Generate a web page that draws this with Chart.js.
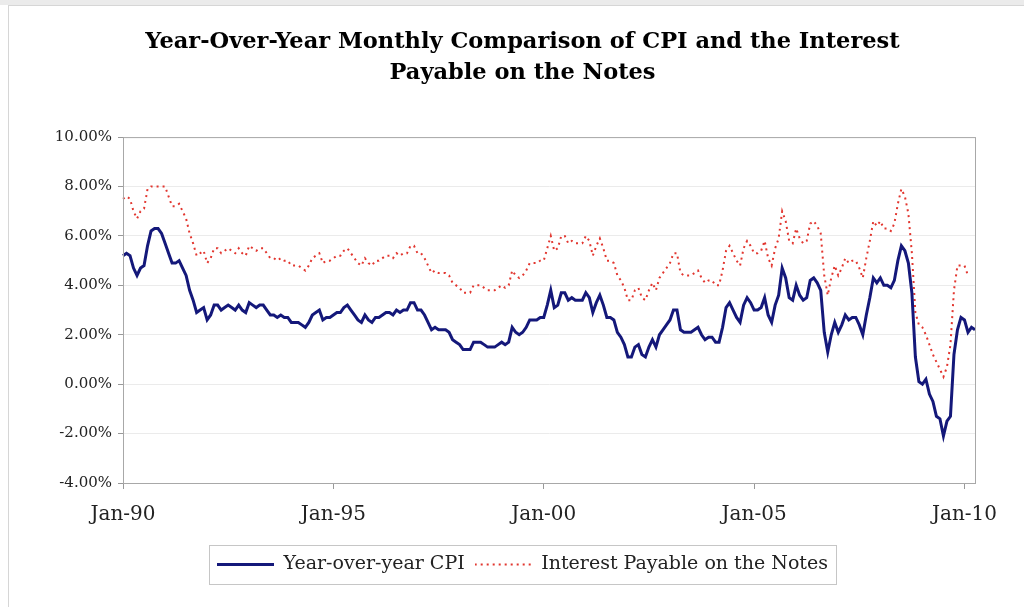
<!DOCTYPE html>
<html>
<head>
<meta charset="utf-8">
<script src="https://cdn.jsdelivr.net/npm/chart.js@4.4.1/dist/chart.umd.min.js"></script>
<style>
  html, body { margin: 0; padding: 0; background: #fff; }
  #strip { position: absolute; left: 0; top: 0; width: 1024px; height: 5px; background: #ebebeb; }
  #frame { position: absolute; left: 8px; top: 5px; width: 1016px; height: 602px; border-left: 1px solid #d6d6d6; border-top: 1px solid #d6d6d6; box-sizing: border-box; }
  #wrap { position: absolute; left: 0; top: 0; width: 1024px; height: 607px; }
</style>
</head>
<body>
<div id="strip"></div>
<div id="frame"></div>
<div id="wrap"><canvas id="chart"></canvas></div>
<script>
// monthly categories Jan-90 .. Apr-10
const monthNames = ['Jan','Feb','Mar','Apr','May','Jun','Jul','Aug','Sep','Oct','Nov','Dec']
const years = [1990,1991,1992,1993,1994,1995,1996,1997,1998,1999,2000,2001,2002,2003,2004,2005,2006,2007,2008,2009,2010]
const monthCount = 244
const tickLabels = ['Jan-90','Jan-95','Jan-00','Jan-05','Jan-10']

// year-over-year CPI, %
const cpi = [
  5.2, 5.3, 5.2, 4.7, 4.4, 4.7, 4.8, 5.6, 6.2, 6.3, 6.3, 6.1,
  5.7, 5.3, 4.9, 4.9, 5.0, 4.7, 4.4, 3.8, 3.4, 2.9, 3.0, 3.1,
  2.6, 2.8, 3.2, 3.2, 3.0, 3.1, 3.2, 3.1, 3.0, 3.2, 3.0, 2.9,
  3.3, 3.2, 3.1, 3.2, 3.2, 3.0, 2.8, 2.8, 2.7, 2.8, 2.7, 2.7,
  2.5, 2.5, 2.5, 2.4, 2.3, 2.5, 2.8, 2.9, 3.0, 2.6, 2.7, 2.7,
  2.8, 2.9, 2.9, 3.1, 3.2, 3.0, 2.8, 2.6, 2.5, 2.8, 2.6, 2.5,
  2.7, 2.7, 2.8, 2.9, 2.9, 2.8, 3.0, 2.9, 3.0, 3.0, 3.3, 3.3,
  3.0, 3.0, 2.8, 2.5, 2.2, 2.3, 2.2, 2.2, 2.2, 2.1, 1.8, 1.7,
  1.6, 1.4, 1.4, 1.4, 1.7, 1.7, 1.7, 1.6, 1.5, 1.5, 1.5, 1.6,
  1.7, 1.6, 1.7, 2.3, 2.1, 2.0, 2.1, 2.3, 2.6, 2.6, 2.6, 2.7,
  2.7, 3.2, 3.8, 3.1, 3.2, 3.7, 3.7, 3.4, 3.5, 3.4, 3.4, 3.4,
  3.7, 3.5, 2.9, 3.3, 3.6, 3.2, 2.7, 2.7, 2.6, 2.1, 1.9, 1.6,
  1.1, 1.1, 1.5, 1.6, 1.2, 1.1, 1.5, 1.8, 1.5, 2.0, 2.2, 2.4,
  2.6, 3.0, 3.0, 2.2, 2.1, 2.1, 2.1, 2.2, 2.3, 2.0, 1.8, 1.9,
  1.9, 1.7, 1.7, 2.3, 3.1, 3.3, 3.0, 2.7, 2.5, 3.2, 3.5, 3.3,
  3.0, 3.0, 3.1, 3.5, 2.8, 2.5, 3.2, 3.6, 4.7, 4.3, 3.5, 3.4,
  4.0, 3.6, 3.4, 3.5, 4.2, 4.3, 4.1, 3.8, 2.1, 1.3, 2.0, 2.5,
  2.1, 2.4, 2.8, 2.6, 2.7, 2.7, 2.4, 2.0, 2.8, 3.5, 4.3, 4.1,
  4.3, 4.0, 4.0, 3.9, 4.2, 5.0, 5.6, 5.4, 4.9, 3.7, 1.1, 0.1,
  0.0, 0.2, -0.4, -0.7, -1.3, -1.4, -2.1, -1.5, -1.3, 1.2, 2.2, 2.7,
  2.6, 2.1, 2.3, 2.2
]

// interest payable on the notes, %
const interest = [
  7.5, 7.6, 7.5, 7.0, 6.7, 7.0, 7.1, 7.9, 8.0, 8.0, 8.0, 8.0,
  8.0, 7.6, 7.2, 7.2, 7.3, 7.0, 6.7, 6.1, 5.7, 5.2, 5.3, 5.4,
  4.9, 5.1, 5.5, 5.5, 5.3, 5.4, 5.5, 5.4, 5.3, 5.5, 5.3, 5.2,
  5.6, 5.5, 5.4, 5.5, 5.5, 5.3, 5.1, 5.1, 5.0, 5.1, 5.0, 5.0,
  4.8, 4.8, 4.8, 4.7, 4.6, 4.8, 5.1, 5.2, 5.3, 4.9, 5.0, 5.0,
  5.1, 5.2, 5.2, 5.4, 5.5, 5.3, 5.1, 4.9, 4.8, 5.1, 4.9, 4.8,
  5.0, 5.0, 5.1, 5.2, 5.2, 5.1, 5.3, 5.2, 5.3, 5.3, 5.6, 5.6,
  5.3, 5.3, 5.1, 4.8, 4.5, 4.6, 4.5, 4.5, 4.5, 4.4, 4.1, 4.0,
  3.9, 3.7, 3.7, 3.7, 4.0, 4.0, 4.0, 3.9, 3.8, 3.8, 3.8, 3.9,
  4.0, 3.9, 4.0, 4.6, 4.4, 4.3, 4.4, 4.6, 4.9, 4.9, 4.9, 5.0,
  5.0, 5.5, 6.0, 5.4, 5.5, 6.0, 6.0, 5.7, 5.8, 5.7, 5.7, 5.7,
  6.0, 5.8, 5.2, 5.6, 5.9, 5.5, 5.0, 5.0, 4.9, 4.4, 4.2, 3.9,
  3.4, 3.4, 3.8, 3.9, 3.5, 3.4, 3.8, 4.1, 3.8, 4.3, 4.5, 4.7,
  4.9, 5.3, 5.3, 4.5, 4.4, 4.4, 4.4, 4.5, 4.6, 4.3, 4.1, 4.2,
  4.2, 4.0, 4.0, 4.6, 5.4, 5.6, 5.3, 5.0, 4.8, 5.5, 5.8, 5.6,
  5.3, 5.3, 5.4, 5.8, 5.1, 4.8, 5.5, 5.9, 7.0, 6.6, 5.8, 5.7,
  6.3, 5.9, 5.7, 5.8, 6.5, 6.6, 6.4, 6.1, 4.4, 3.6, 4.3, 4.8,
  4.4, 4.7, 5.1, 4.9, 5.0, 5.0, 4.7, 4.3, 5.1, 5.8, 6.6, 6.4,
  6.6, 6.3, 6.3, 6.2, 6.5, 7.3, 7.9, 7.6, 6.9, 5.3, 2.9, 2.4,
  2.3, 2.0, 1.6, 1.2, 0.9, 0.6, 0.3, 0.7, 1.6, 3.8, 4.8, 4.8,
  4.8, 4.4
]

const labels = []
years.forEach(y => monthNames.forEach(m => labels.push(m + '-' + String(y).slice(2))))
labels.length = monthCount

const serif = 'DejaVu Serif'
const cpiColor = '#14187a'
const notesColor = '#e2362f'

// little line swatch used as the legend symbol
function swatch(color, width, dash) {
  const c = document.createElement('canvas')
  c.width = 57
  c.height = 5
  const g = c.getContext('2d')
  g.strokeStyle = color
  g.lineWidth = width
  g.setLineDash(dash)
  g.beginPath()
  g.moveTo(0, 2.5)
  g.lineTo(57, 2.5)
  g.stroke()
  return c
}

// title and legend sit centred a bit right of the canvas middle
const shiftBlocks = {
  id: 'shiftBlocks',
  afterLayout(chart) {
    const dx = 35
    ;[chart.titleBlock, chart.legend].forEach(b => {
      if (b) { b.left += dx; b.right += dx }
    })
  }
}

// grey frame round the plot area
const plotFrame = {
  id: 'plotFrame',
  afterDraw(chart) {
    const a = chart.chartArea, ctx = chart.ctx
    ctx.save()
    ctx.strokeStyle = '#a8a8a8'
    ctx.lineWidth = 1
    ctx.strokeRect(a.left + 0.5, a.top + 0.5, a.right - a.left, a.bottom - a.top)
    ctx.restore()
  }
}

// box round the legend like the original
const legendFrame = {
  id: 'legendFrame',
  afterDraw(chart) {
    const boxes = chart.legend.legendHitBoxes
    if (!boxes || !boxes.length) return
    let l = Infinity, t = Infinity, r = -Infinity, b = -Infinity
    boxes.forEach(h => {
      l = Math.min(l, h.left); t = Math.min(t, h.top)
      r = Math.max(r, h.left + h.width); b = Math.max(b, h.top + h.height)
    })
    const ctx = chart.ctx
    ctx.save()
    ctx.strokeStyle = '#c6c6c6'
    ctx.lineWidth = 1
    ctx.strokeRect(Math.round(l - 8) + 0.5, Math.round(t - 10) + 0.5, Math.round(r - l + 16), Math.round(b - t + 20))
    ctx.restore()
  }
}

new Chart(document.getElementById('chart'), {
  type: 'line',
  data: {
    labels: labels,
    datasets: [
      {
        label: 'Year-over-year CPI',
        data: cpi,
        borderColor: cpiColor,
        backgroundColor: cpiColor,
        borderWidth: 3,
        pointRadius: 0,
        pointStyle: swatch(cpiColor, 3, []),
        tension: 0
      },
      {
        label: 'Interest Payable on the Notes',
        data: interest,
        borderColor: notesColor,
        backgroundColor: notesColor,
        borderWidth: 2,
        borderDash: [2, 4],
        pointRadius: 0,
        pointStyle: swatch(notesColor, 2, [2, 4]),
        tension: 0
      }
    ]
  },
  options: {
    responsive: true,
    maintainAspectRatio: false,
    animation: false,
    layout: { padding: { left: 0, right: 49, top: 0, bottom: 23 } },
    plugins: {
      title: {
        display: true,
        text: ['Year-Over-Year Monthly Comparison of CPI and the Interest', 'Payable on the Notes'],
        color: '#000',
        font: { family: serif, weight: 'bold', size: 22.5, lineHeight: 1.38 },
        padding: { top: 27, bottom: 48 }
      },
      legend: {
        position: 'bottom',
        labels: {
          color: '#222',
          font: { family: serif, size: 19 },
          usePointStyle: true,
          pointStyleWidth: 57,
          boxWidth: 57,
          padding: 10
        }
      },
      tooltip: { enabled: false }
    },
    scales: {
      x: {
        type: 'category',
        afterFit: s => { s.height = 62 },
        border: { color: '#999' },
        grid: {
          drawOnChartArea: false,
          tickLength: 6,
          color: c => tickLabels.includes(labels[c.index]) ? '#999' : 'rgba(0,0,0,0)'
        },
        ticks: {
          autoSkip: false,
          maxRotation: 0,
          padding: 14,
          color: '#222',
          font: { family: serif, size: 20 },
          callback: (v, i) => tickLabels.includes(labels[i]) ? labels[i] : ''
        }
      },
      y: {
        min: -4,
        max: 10,
        afterFit: s => { s.width = 123 },
        border: { color: '#999' },
        grid: { color: '#ebebeb', tickColor: '#999', tickLength: 5 },
        ticks: {
          stepSize: 2,
          padding: 6,
          color: '#222',
          font: { family: serif, size: 15 },
          callback: v => v.toFixed(2) + '%'
        }
      }
    }
  },
  plugins: [shiftBlocks, plotFrame, legendFrame]
})
</script>
</body>
</html>
